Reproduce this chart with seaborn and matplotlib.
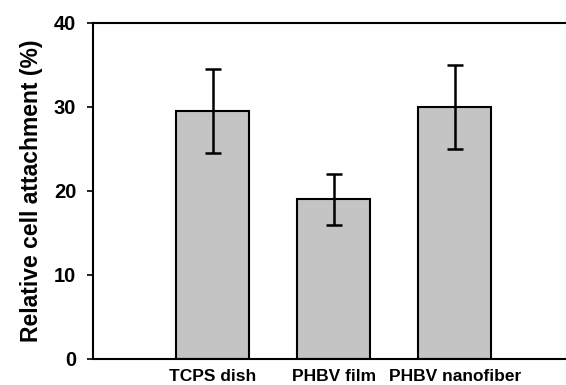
import matplotlib
matplotlib.use("Agg")
import matplotlib.pyplot as plt
import seaborn as sns
import pandas as pd

categories = ["TCPS dish", "PHBV film", "PHBV nanofiber"]
values = [29.5, 19.0, 30.0]
errors = [5.0, 3.0, 5.0]
yticks = [0, 10, 20, 30, 40]

sns.set_theme(style="white")
plt.rcParams['font.family'] = ['Liberation Sans', 'DejaVu Sans']
plt.rcParams['font.weight'] = 'bold'
plt.rcParams['text.color'] = 'black'
plt.rcParams['axes.labelcolor'] = 'black'
plt.rcParams['xtick.color'] = 'black'
plt.rcParams['ytick.color'] = 'black'

df = pd.DataFrame({"cat": categories, "val": values})

fig = plt.figure(figsize=(5.66, 3.85), dpi=100)
ax = fig.add_axes([93/566, 26/385, 473/566, 336/385])

sns.barplot(data=df, x="cat", y="val", ax=ax, color="#c4c4c4", saturation=1,
            width=0.6, edgecolor="black", linewidth=1.5, errorbar=None)
ax.errorbar(x=range(len(categories)), y=values, yerr=errors, fmt="none",
            ecolor="black", elinewidth=1.8, capsize=5.5, capthick=1.8)

ax.set_xlim(-0.99, 2.92)
ax.set_ylim(0, 40)
ax.set_yticks(yticks)
ax.set_yticklabels([str(t) for t in yticks], fontsize=14.5, fontweight="bold", color="black")
ax.set_xticks(range(len(categories)))
ax.set_xticklabels(categories, fontsize=12.5, fontweight="bold", color="black")
ax.set_xlabel("")
ax.set_ylabel("Relative cell attachment (%)", fontsize=16.5, fontweight="bold",
              labelpad=8, color="black")

for s in ["left", "bottom", "top"]:
    ax.spines[s].set_visible(True)
    ax.spines[s].set_color("black")
    ax.spines[s].set_linewidth(1.5)
ax.spines["right"].set_visible(False)

ax.tick_params(axis="y", which="both", left=True, length=4, width=1.2, color="black", pad=8)
ax.tick_params(axis="x", bottom=False, length=0, pad=7)

fig.savefig("out.png", dpi=100)
